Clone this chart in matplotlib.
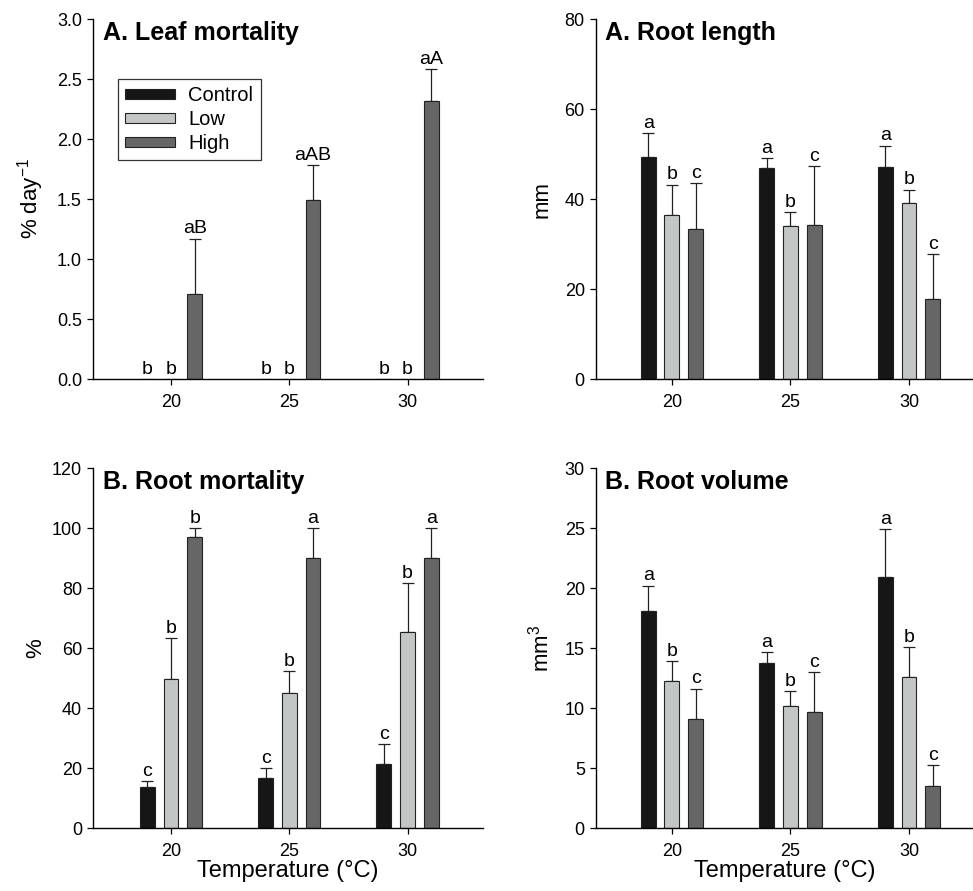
import numpy as np
import matplotlib
matplotlib.use("Agg")
import matplotlib.pyplot as plt

plt.rcParams['font.family'] = ['Liberation Sans', 'DejaVu Sans']

# data
temps = ['20', '25', '30']
groups = ['Control', 'Low', 'High']
colors = ['#161616', '#c4c6c5', '#666666']

leaf_mean = [[0, 0, 0], [0, 0, 0], [0.71, 1.49, 2.32]]
leaf_top = [[0, 0, 0], [0, 0, 0], [1.17, 1.78, 2.58]]
leaf_letters = [['b', 'b', 'b'], ['b', 'b', 'b'], ['aB', 'aAB', 'aA']]

rootlen_mean = [[49.4, 46.8, 47.1], [36.5, 33.9, 39.1], [33.3, 34.3, 17.7]]
rootlen_top = [[54.6, 49.1, 51.9], [43.2, 37.1, 42.1], [43.5, 47.3, 27.8]]
rootlen_letters = [['a', 'a', 'a'], ['b', 'b', 'b'], ['c', 'c', 'c']]

rootmort_mean = [[13.7, 16.6, 21.4], [49.7, 44.9, 65.3], [97.1, 90.0, 90.0]]
rootmort_top = [[15.6, 20.0, 28.0], [63.3, 52.3, 81.6], [100.0, 100.0, 100.0]]
rootmort_letters = [['c', 'c', 'c'], ['b', 'b', 'b'], ['b', 'a', 'a']]

rootvol_mean = [[18.1, 13.75, 20.9], [12.25, 10.2, 12.56], [9.08, 9.64, 3.53]]
rootvol_top = [[20.2, 14.67, 24.9], [13.9, 11.4, 15.06], [11.6, 12.97, 5.22]]
rootvol_letters = [['a', 'a', 'a'], ['b', 'b', 'b'], ['c', 'c', 'c']]

fig = plt.figure(figsize=(9.73, 8.91), dpi=100)

H = 0.404
axes_pos = [
    [0.0956, 0.5746, 0.401, H],
    [0.6125, 0.5746, 0.3875, H],
    [0.0956, 0.0707, 0.401, H],
    [0.6125, 0.0707, 0.3875, H],
]

# title, y label, means, error tops, letters, ymax, yticks, format, x label, ylabel pad
panels = [
    ("A. Leaf mortality", "% day$^{\\mathregular{-1}}$", leaf_mean, leaf_top, leaf_letters,
     3.0, np.arange(0, 3.01, 0.5), '%.1f', None, 8),
    ("A. Root length", "mm", rootlen_mean, rootlen_top, rootlen_letters,
     80, np.arange(0, 81, 20), '%d', None, 9),
    ("B. Root mortality", "%", rootmort_mean, rootmort_top, rootmort_letters,
     120, np.arange(0, 121, 20), '%d', "Temperature (°C)", 4),
    ("B. Root volume", "mm$^{\\mathregular{3}}$", rootvol_mean, rootvol_top, rootvol_letters,
     30, np.arange(0, 31, 5), '%d', "Temperature (°C)", 8),
]

x = np.arange(len(temps))
offsets = [-0.2, 0.0, 0.2]
bw = 0.125

for i, (title, ylab, means, tops, letters, ymax, yt, fmt, xlab, lpad) in enumerate(panels):
    ax = fig.add_axes(axes_pos[i])
    for g in range(3):
        m = np.array(means[g], dtype=float)
        t = np.array(tops[g], dtype=float)
        xs = x + offsets[g]
        ax.bar(xs, m, width=bw, color=colors[g], edgecolor='#222222',
               linewidth=0.8, label=groups[g], zorder=2)
        has_err = t > m
        if has_err.any():
            ax.errorbar(xs[has_err], m[has_err],
                        yerr=[np.zeros(has_err.sum()), (t - m)[has_err]],
                        fmt='none', ecolor='#222222', elinewidth=0.9,
                        capsize=4, capthick=0.9, zorder=1)
        for k in range(3):
            ax.annotate(letters[g][k], (xs[k], max(t[k], m[k])),
                        xytext=(0, 1), textcoords='offset points',
                        ha='center', va='bottom', fontsize=14)

    if i % 2 == 0:
        ax.set_xlim(-0.66, 2.64)
    else:
        ax.set_xlim(-0.64, 2.54)
    ax.set_ylim(0, ymax)
    ax.set_xticks(x)
    ax.set_xticklabels(temps)
    ax.set_yticks(yt)
    ax.set_yticklabels([fmt % v for v in yt])
    ax.tick_params(labelsize=13, direction='out', length=4, width=0.9, pad=4)
    ax.tick_params(axis='x', pad=7)
    ax.spines['top'].set_visible(False)
    ax.spines['right'].set_visible(False)
    ax.spines['left'].set_linewidth(1.0)
    ax.spines['bottom'].set_linewidth(1.0)
    ax.set_ylabel(ylab, fontsize=16, labelpad=lpad)
    if xlab:
        ax.set_xlabel(xlab, fontsize=17, labelpad=0)
    ax.text(0.025, 0.995, title, transform=ax.transAxes, ha='left', va='top',
            fontsize=18, fontweight='bold')

    if i == 0:
        leg = ax.legend(loc='upper left', bbox_to_anchor=(0.064, 0.833),
                        borderaxespad=0, fontsize=14.5, frameon=True,
                        fancybox=False, handlelength=2.5, handleheight=0.4,
                        labelspacing=0.25, borderpad=0.35, handletextpad=0.65)
        leg.get_frame().set_edgecolor('black')
        leg.get_frame().set_linewidth(0.9)

fig.savefig('out.png', dpi=100)
